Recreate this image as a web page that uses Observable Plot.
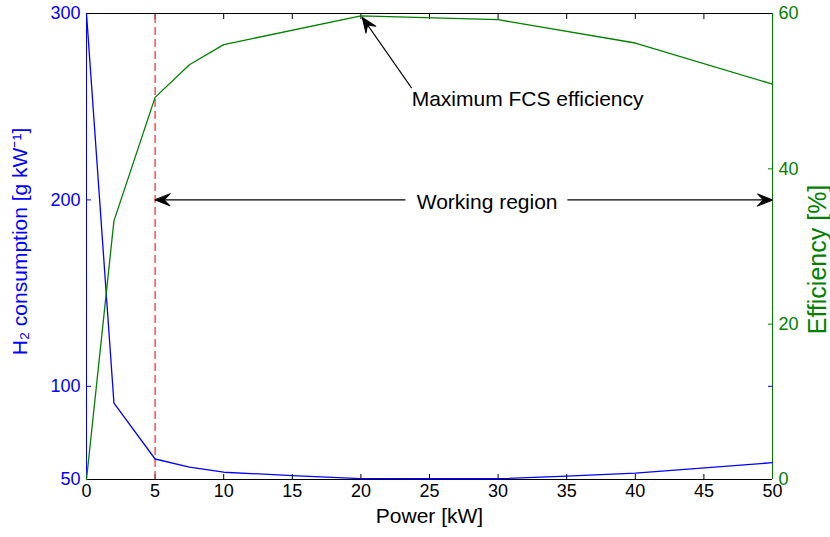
<!DOCTYPE html>
<html><head><meta charset="utf-8">
<script src="https://cdn.jsdelivr.net/npm/d3@7"></script>
<script src="https://cdn.jsdelivr.net/npm/@observablehq/plot@0.6"></script>
<style>body{margin:0;background:#fff}</style>
</head><body><div id="chart"></div>
<script>
// H2 consumption series (left axis)
const powerH2 = [0, 2, 5, 7.5, 10, 15, 20, 25, 30, 35, 40, 50];
const h2Consumption = [300, 91, 61, 56.6, 53.9, 52.1, 50.5, 50.4, 50.4, 51.8, 53.4, 59];
// Efficiency series (right axis)
const powerEff = [0, 2, 5, 7.5, 10, 20, 30, 40, 50];
const efficiency = [0, 33.3, 49.2, 53.4, 56, 59.7, 59.2, 56.2, 50.9];
// ticks
const xTicks = [0, 5, 10, 15, 20, 25, 30, 35, 40, 45, 50];
const h2Ticks = [50, 100, 200, 300];
const effTicks = [0, 20, 40, 60];
const workingRegion = [5, 50];

const BLUE = "#0000ff", GREEN = "#008000", RED = "#ff3333";
const H2MIN = 50, H2MAX = 300, EFFMAX = 60;
const W = 830, H = 537, ML = 86, MR = 58, MT = 13, MB = 58;
const toLeft = e => H2MIN + e * (H2MAX - H2MIN) / EFFMAX;
const fromLeft = v => Math.round((v - H2MIN) * EFFMAX / (H2MAX - H2MIN));
// pixel per data unit, used only to orient arrowheads
const kx = (W - ML - MR) / 50, ky = (H - MT - MB) / (H2MAX - H2MIN);

const h2Data = powerH2.map((p, i) => ({p, v: h2Consumption[i]}));
const effData = powerEff.map((p, i) => ({p, v: toLeft(efficiency[i])}));
const inner = xTicks.slice(1, -1);

// annotation arrows: tail -> tip
const arrows = [
  {x1: 23.7, y1: toLeft(50.4), x2: 20.1, y2: toLeft(59.5)},
  {x1: 23.25, y1: 200, x2: workingRegion[0], y2: 200},
  {x1: 35.05, y1: 200, x2: workingRegion[1], y2: 200}
].map(a => ({...a, r: Math.atan2((a.x2 - a.x1) * kx, (a.y2 - a.y1) * ky) * 180 / Math.PI}));

const headShape = {
  draw(context, l) {
    const w = 6;
    context.moveTo(0, 0);
    context.lineTo(-w, l);
    context.lineTo(0, l * 0.62);
    context.lineTo(w, l);
    context.closePath();
  }
};

const chart = Plot.plot({
  width: W, height: H,
  marginLeft: ML, marginRight: MR, marginTop: MT, marginBottom: MB,
  style: {fontFamily: "'Liberation Sans', Arial, sans-serif", fontSize: "18px", background: "#fff"},
  x: {domain: [0, 50]},
  y: {domain: [H2MIN, H2MAX]},
  marks: [
    // frame
    Plot.ruleY([H2MAX], {stroke: "#000", strokeWidth: 1}),
    Plot.ruleY([H2MIN], {stroke: "#000", strokeWidth: 1}),
    Plot.ruleX([0], {stroke: BLUE, strokeWidth: 1}),
    Plot.ruleX([50], {stroke: GREEN, strokeWidth: 1}),
    // bottom axis
    Plot.axisX({anchor: "bottom", ticks: xTicks, tickSize: 0, tickPadding: 5, color: "#000", label: null, fontSize: 18}),
    Plot.axisX({anchor: "bottom", ticks: inner, tickSize: 5, dy: -5, tickFormat: () => "", color: "#000", label: null}),
    Plot.axisX({anchor: "top", ticks: inner, tickSize: 5, dy: 5, tickFormat: () => "", color: "#000", label: null}),
    // left axis
    Plot.axisY({anchor: "left", ticks: h2Ticks, tickSize: 0, tickPadding: 6, color: BLUE, label: null, fontSize: 18}),
    Plot.axisY({anchor: "left", ticks: [100, 200], tickSize: 5, dx: 5, tickFormat: () => "", color: BLUE, label: null}),
    Plot.axisY({anchor: "right", ticks: [100, 200], tickSize: 5, dx: -5, tickFormat: () => "", color: BLUE, label: null}),
    // right axis
    Plot.axisY({anchor: "right", ticks: effTicks.map(toLeft), tickSize: 0, tickPadding: 6, tickFormat: fromLeft, color: GREEN, label: null, fontSize: 18}),
    Plot.axisY({anchor: "right", ticks: [20, 40].map(toLeft), tickSize: 5, dx: -5, tickFormat: () => "", color: GREEN, label: null}),
    // axis labels
    Plot.text(["Power [kW]"], {frameAnchor: "bottom", dy: 43, textAnchor: "middle", fill: "#000", fontSize: 21}),
    Plot.text(["H\u2082 consumption [g kW\u207B\u00B9]"], {frameAnchor: "left", dx: -66, dy: -5, rotate: -90, textAnchor: "middle", fill: BLUE, fontSize: 21}),
    Plot.text(["Efficiency [%]"], {frameAnchor: "right", dx: 45, dy: 13, rotate: -90, textAnchor: "middle", fill: GREEN, fontSize: 25}),
    // working region boundary
    Plot.ruleX([workingRegion[0]], {y1: H2MIN, y2: H2MAX, stroke: RED, strokeWidth: 1.3, strokeDasharray: "8,4"}),
    // series
    Plot.line(h2Data, {x: "p", y: "v", stroke: BLUE, strokeWidth: 1.3}),
    Plot.line(effData, {x: "p", y: "v", stroke: GREEN, strokeWidth: 1.3}),
    // annotations
    Plot.link(arrows, {x1: "x1", y1: "y1", x2: "x2", y2: "y2", stroke: "#000", strokeWidth: 1.1}),
    Plot.vector(arrows, {x: "x2", y: "y2", rotate: "r", length: 15, anchor: "start", shape: headShape, fill: "#000", stroke: "#000", strokeWidth: 1}),
    Plot.text(["Maximum FCS efficiency"], {x: 23.7, y: toLeft(48.9), textAnchor: "start", fill: "#000", fontSize: 21}),
    Plot.text(["Working region"], {x: 29.2, y: 200, dy: 2, textAnchor: "middle", fill: "#000", fontSize: 21})
  ]
});
document.getElementById("chart").append(chart);
</script>
</body></html>
